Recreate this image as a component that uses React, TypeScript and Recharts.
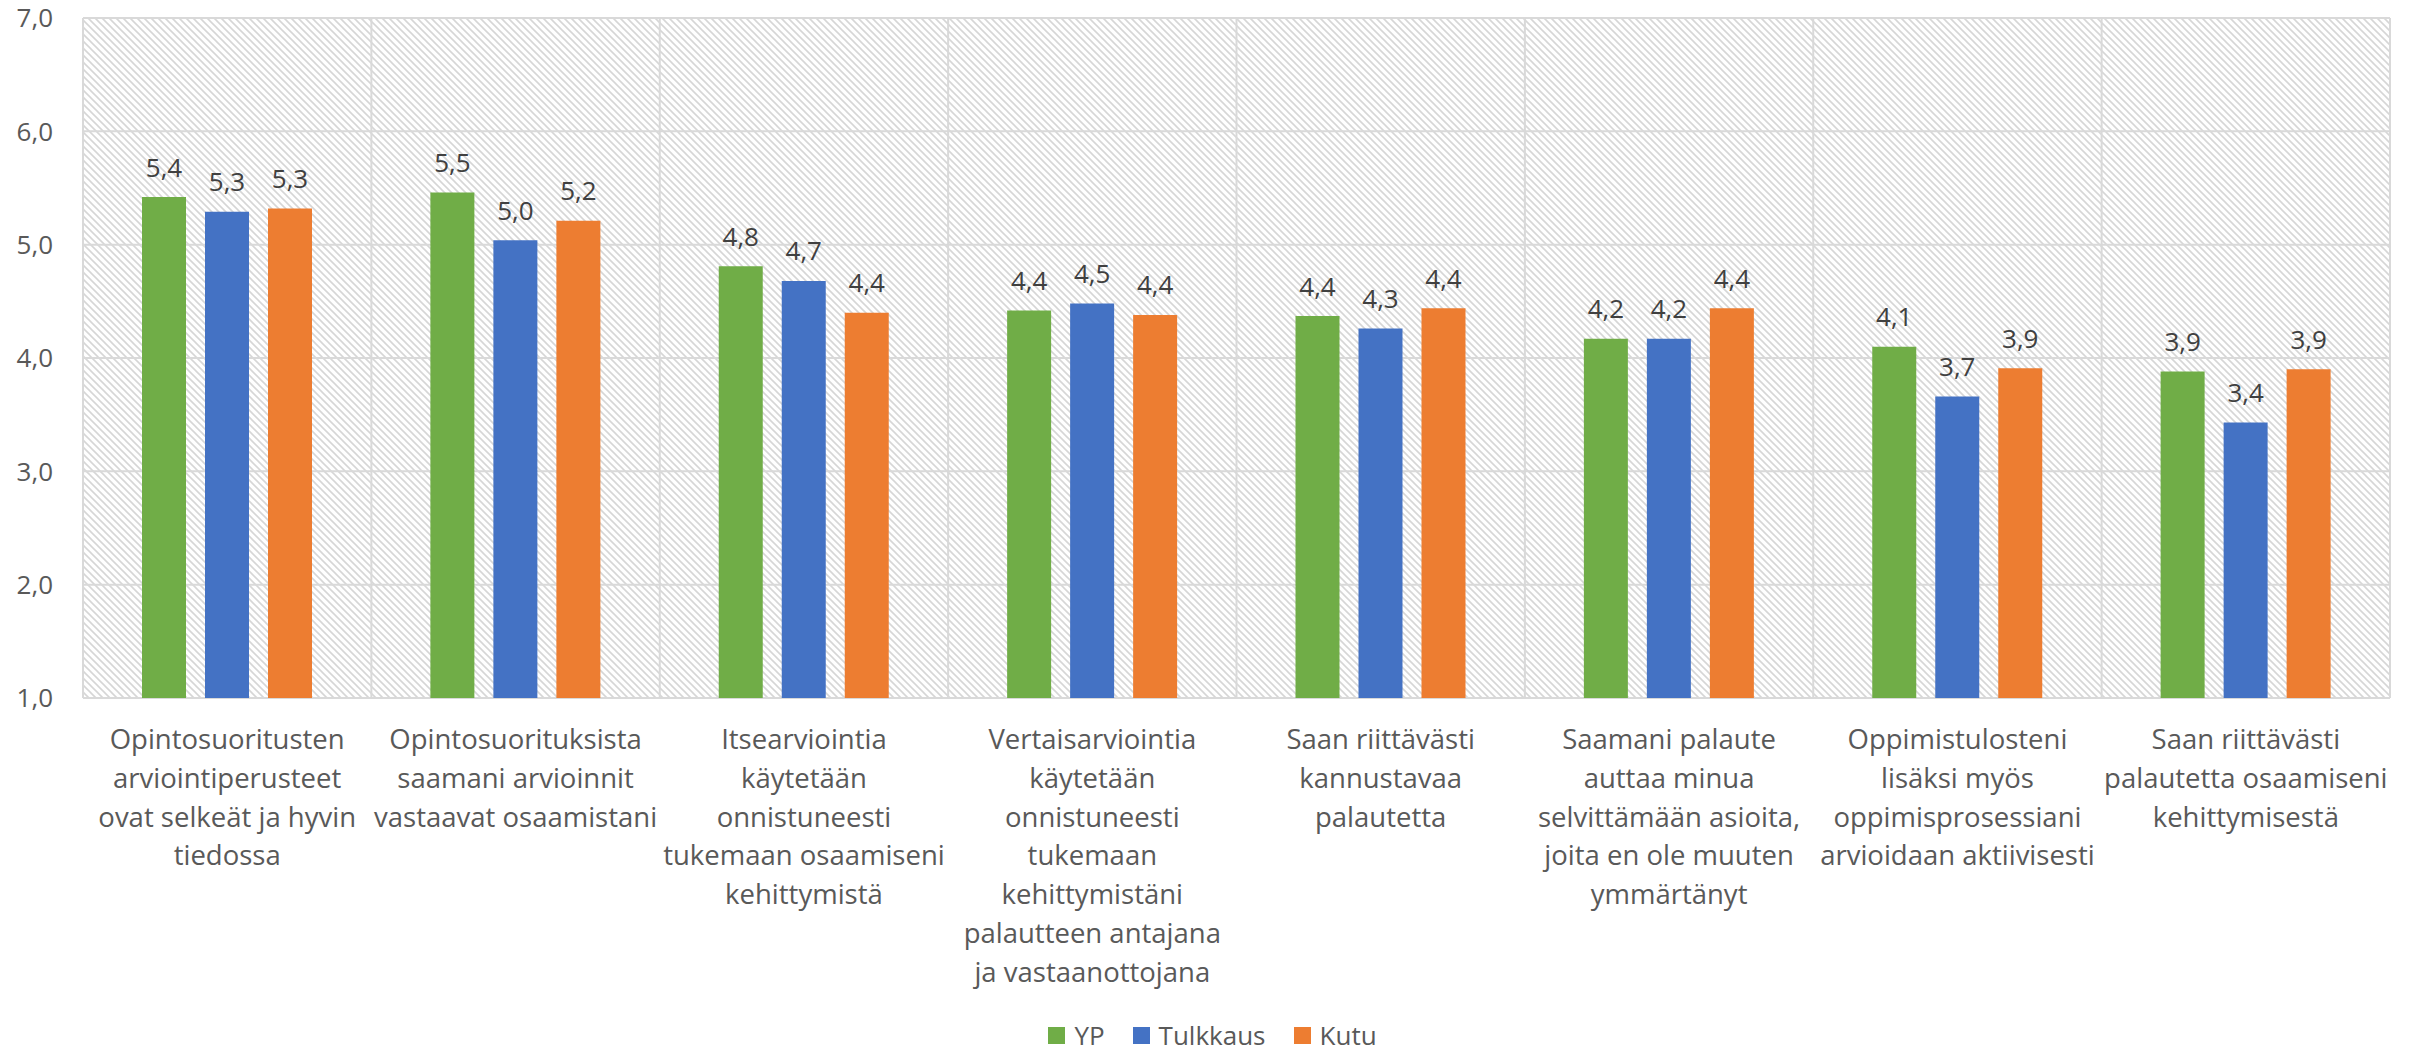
import React from "react";
import {
  BarChart, Bar, XAxis, YAxis, CartesianGrid, Legend, LabelList,
} from "recharts";

const CATEGORIES = [
  "Opintosuoritusten\narviointiperusteet\novat selkeät ja hyvin\ntiedossa",
  "Opintosuorituksista\nsaamani arvioinnit\nvastaavat osaamistani",
  "Itsearviointia\nkäytetään\nonnistuneesti\ntukemaan osaamiseni\nkehittymistä",
  "Vertaisarviointia\nkäytetään\nonnistuneesti\ntukemaan\nkehittymistäni\npalautteen antajana\nja vastaanottojana",
  "Saan riittävästi\nkannustavaa\npalautetta",
  "Saamani palaute\nauttaa minua\nselvittämään asioita,\njoita en ole muuten\nymmärtänyt",
  "Oppimistulosteni\nlisäksi myös\noppimisprosessiani\narvioidaan aktiivisesti",
  "Saan riittävästi\npalautetta osaamiseni\nkehittymisestä",
];

const YP = [5.42, 5.46, 4.81, 4.42, 4.37, 4.17, 4.10, 3.88];
const TULKKAUS = [5.29, 5.04, 4.68, 4.48, 4.26, 4.17, 3.66, 3.43];
const KUTU = [5.32, 5.21, 4.40, 4.38, 4.44, 4.44, 3.91, 3.90];

const Y_TICKS = [1, 2, 3, 4, 5, 6, 7];

const SERIES = [
  { key: "YP", color: "#70AD47" },
  { key: "Tulkkaus", color: "#4472C4" },
  { key: "Kutu", color: "#ED7D31" },
];

const FONT = "'Open Sans', sans-serif";
const TEXT = "#595959";

const data = CATEGORIES.map((name, i) => ({
  name,
  YP: YP[i],
  Tulkkaus: TULKKAUS[i],
  Kutu: KUTU[i],
}));

const fmt = (v: number) => v.toFixed(1).replace(".", ",");

function CategoryTick(props: any) {
  const { x, y, payload } = props;
  const lines = String(payload.value).split("\n");
  return (
    <text x={x} y={y} textAnchor="middle" fill={TEXT} fontSize={27.5} fontFamily={FONT}>
      {lines.map((line, i) => (
        <tspan key={i} x={x} y={y + 51 + i * 38.8}>{line}</tspan>
      ))}
    </text>
  );
}

function ValueLabel(props: any) {
  const { x, y, width, value } = props;
  return (
    <text
      x={x + width / 2}
      y={y - 20.5}
      textAnchor="middle"
      fill="#404040"
      fontSize={26}
      fontFamily={FONT}
    >
      {fmt(value)}
    </text>
  );
}

function LegendContent() {
  return (
    <div
      style={{
        height: 60,
        display: "flex",
        justifyContent: "center",
        alignItems: "flex-end",
        paddingBottom: 1,
        boxSizing: "border-box",
        fontFamily: FONT,
        fontSize: 26,
        color: TEXT,
      }}
    >
      {SERIES.map((s) => (
        <div key={s.key} style={{ display: "flex", alignItems: "center", margin: "0 14px", lineHeight: "26px" }}>
          <span style={{ width: 17, height: 17, background: s.color, display: "inline-block", marginRight: 9 }} />
          <span>{s.key}</span>
        </div>
      ))}
    </div>
  );
}

export default function App() {
  return (
    <div style={{ position: "absolute", left: 0, top: 0, background: "#fff" }}>
      <BarChart
        width={2425}
        height={1049}
        data={data}
        margin={{ top: 18, right: 35, left: 0, bottom: 0 }}
        barSize={44}
        barGap={19}
      >
        <defs>
          <pattern id="hatch" patternUnits="userSpaceOnUse" width={7} height={7}>
            <rect width={7} height={7} fill="#ffffff" />
            <path d="M0,0 L7,7 M-1,6 L1,8 M6,-1 L8,1" stroke="#d6d6d6" strokeWidth={1.6} />
          </pattern>
        </defs>
        <CartesianGrid
          stroke="#d9d9d9"
          strokeWidth={2}
          fill="url(#hatch)"
          fillOpacity={1}
          verticalCoordinatesGenerator={({ offset }: any) =>
            CATEGORIES.map((_, i) => offset.left + (i * offset.width) / CATEGORIES.length)
              .concat(offset.left + offset.width)
          }
        />
        <XAxis
          dataKey="name"
          axisLine={false}
          tickLine={false}
          tickSize={0}
          tickMargin={0}
          height={291}
          interval={0}
          tick={<CategoryTick />}
        />
        <YAxis
          domain={[1, 7]}
          ticks={Y_TICKS}
          width={83}
          axisLine={false}
          tickLine={false}
          tickSize={0}
          tickMargin={30}
          tickFormatter={fmt}
          tick={{ fill: TEXT, fontSize: 26, fontFamily: FONT }}
        />
        <Legend
          verticalAlign="bottom"
          content={<LegendContent />}
          wrapperStyle={{ left: 0, width: 2425, bottom: 0 }}
        />
        {SERIES.map((s) => (
          <Bar key={s.key} dataKey={s.key} fill={s.color} isAnimationActive={false}>
            <LabelList dataKey={s.key} content={<ValueLabel />} />
          </Bar>
        ))}
      </BarChart>
    </div>
  );
}
